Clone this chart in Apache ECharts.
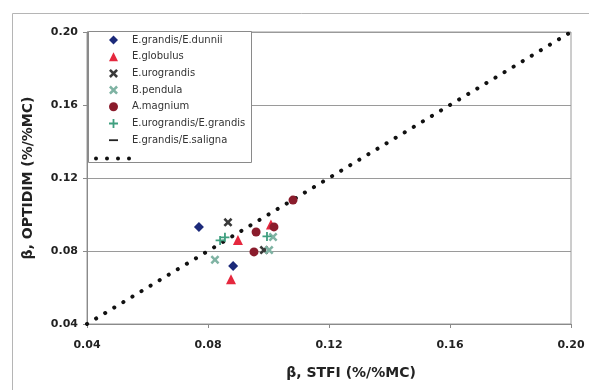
<!DOCTYPE html>
<html><head><meta charset="utf-8">
<script src="https://cdn.jsdelivr.net/npm/echarts@6/dist/echarts.min.js"></script>
<style>html,body{margin:0;padding:0;background:#fff}#c{width:589px;height:390px}</style>
</head><body><div id="c"></div>
<script>
// Data: [STFI beta, OPTIDIM beta]
const grandisDunnii = [[0.0770, 0.0932], [0.0883, 0.0718]];
const globulus = [[0.0899, 0.0860], [0.0876, 0.0645], [0.1008, 0.0945]];
const urograndis = [[0.0866, 0.0957], [0.0985, 0.0805]];
const pendula = [[0.0823, 0.0752], [0.1002, 0.0805], [0.1015, 0.0877]];
const magnium = [[0.0959, 0.0904], [0.0952, 0.0795], [0.1081, 0.1079], [0.1018, 0.0932]];
const urograndisGrandis = [[0.0840, 0.0858], [0.0856, 0.0875], [0.0995, 0.0880]];
const grandisSaligna = [];
const oneToOne = [[0.04, 0.04], [0.20, 0.20]];
const ticks = [0.04, 0.08, 0.12, 0.16, 0.20];
const names = ['E.grandis/E.dunnii', 'E.globulus', 'E.urograndis', 'B.pendula', 'A.magnium', 'E.urograndis/E.grandis', 'E.grandis/E.saligna'];

const X = 'path://M0,2L2,0L5,3L8,0L10,2L7,5L10,8L8,10L5,7L2,10L0,8L3,5Z';
const PLUS = 'path://M4,0H6V4H10V6H6V10H4V6H0V4H4Z';
const DASH = 'path://M0,4H10V6H0Z';
const DOTS = 'path://M0,2A2,2 0 1 0 4,2A2,2 0 1 0 0,2Z' +
  'M11,2A2,2 0 1 0 15,2A2,2 0 1 0 11,2Z' +
  'M22,2A2,2 0 1 0 26,2A2,2 0 1 0 22,2Z' +
  'M33,2A2,2 0 1 0 37,2A2,2 0 1 0 33,2Z';

const chart = echarts.init(document.getElementById('c'), null, {renderer: 'canvas'});
const font = '"DejaVu Sans", Arial, sans-serif';
function sc(name, data, symbol, size, color) {
  return {type: 'scatter', name, data, symbol, symbolSize: size, itemStyle: {color, opacity: 1}, z: 5};
}
chart.setOption({
  animation: false,
  backgroundColor: '#fff',
  grid: {left: 87, right: 18, top: 32, bottom: 66, show: true, borderColor: '#9a9a9a', borderWidth: 1},
  graphic: [
    {type: 'rect', shape: {x: 12.5, y: 13.5, width: 590, height: 380}, style: {fill: 'none', stroke: '#b5b5b5', lineWidth: 1}, z: -10, silent: true},
    {type: 'rect', shape: {x: 88.5, y: 31.5, width: 163, height: 131}, style: {fill: '#fff', stroke: '#8a8a8a', lineWidth: 1}, z: 50, silent: true}
  ],
  legend: [
    {orient: 'vertical', left: 109, top: 34, itemWidth: 9, itemHeight: 9, itemGap: 4.7, padding: 0, z: 60,
     data: names, textStyle: {fontFamily: font, fontSize: 10, lineHeight: 12, color: '#333', padding: [0, 0, 0, 9]}},
    {orient: 'vertical', left: 94, top: 154, itemWidth: 37, itemHeight: 4, padding: 0, z: 60,
     data: [{name: '1:1', icon: DOTS}], formatter: () => ' ', textStyle: {fontSize: 9}}
  ],
  xAxis: {type: 'value', min: 0.04, max: 0.20, interval: 0.04,
    axisLine: {show: true, lineStyle: {color: '#8a8a8a'}},
    axisTick: {show: true, length: 4, lineStyle: {color: '#8a8a8a'}},
    splitLine: {show: false},
    axisLabel: {margin: 16, fontFamily: font, fontSize: 11, fontWeight: 'bold', color: '#222', formatter: v => v.toFixed(2)},
    name: 'β, STFI (%/%MC)', nameLocation: 'middle', nameGap: 42,
    nameTextStyle: {fontFamily: font, fontSize: 14, fontWeight: 'bold', color: '#222', padding: [0, 0, 0, 44]}},
  yAxis: {type: 'value', min: 0.04, max: 0.20, interval: 0.04,
    axisLine: {show: true, lineStyle: {color: '#8a8a8a'}},
    axisTick: {show: true, length: 4, lineStyle: {color: '#8a8a8a'}},
    splitLine: {show: true, lineStyle: {color: '#9a9a9a', width: 1}},
    axisLabel: {margin: 9, fontFamily: font, fontSize: 11, fontWeight: 'bold', color: '#222', formatter: v => v.toFixed(2)},
    name: 'β, OPTIDIM (%/%MC)', nameLocation: 'middle', nameGap: 52,
    nameTextStyle: {fontFamily: font, fontSize: 14, fontWeight: 'bold', color: '#222'}},
  series: [
    {type: 'line', name: '1:1', data: oneToOne, symbol: 'none', z: 3,
     itemStyle: {color: '#111'},
     lineStyle: {color: '#111', width: 4, type: [0.1, 10.5], cap: 'round'}},
    sc(names[0], grandisDunnii, 'diamond', 10, '#1c2a7a'),
    sc(names[1], globulus, 'triangle', 10, '#e5283e'),
    sc(names[2], urograndis, X, 9, '#3a3a3a'),
    sc(names[3], pendula, X, 9, '#7fb3a3'),
    sc(names[4], magnium, 'circle', 9, '#8a1c2c'),
    sc(names[5], urograndisGrandis, PLUS, 9, '#3f9f7f'),
    sc(names[6], grandisSaligna, DASH, 9, '#222')
  ]
});
</script></body></html>
